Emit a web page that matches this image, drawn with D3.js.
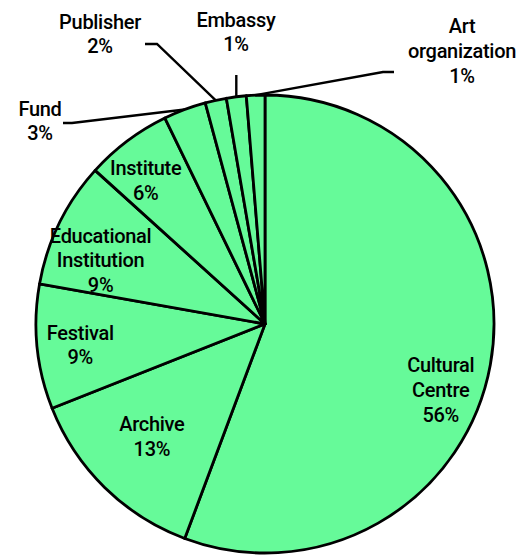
<!DOCTYPE html>
<html>
<head>
<meta charset="utf-8">
<script src="https://cdn.jsdelivr.net/npm/d3@7"></script>
<style>
html,body{margin:0;padding:0;background:#fff;}
svg text{font-family:Roboto,"Noto Sans",sans-serif;font-weight:500;font-size:20px;letter-spacing:-0.3px;fill:#000;}
</style>
</head>
<body>
<svg id="chart" width="530" height="555"></svg>
<script>
// Data
const categories = ["Cultural Centre","Archive","Festival","Educational Institution","Institute","Fund","Publisher","Embassy","Art organization"];
const labelLines = [["Cultural","Centre"],["Archive"],["Festival"],["Educational","Institution"],["Institute"],["Fund"],["Publisher"],["Embassy"],["Art","organization"]];
const values = [55.7,13.3,8.8,8.9,6.1,3.0,1.5,1.4,1.3];
const percentLabels = ["56%","13%","9%","9%","6%","3%","2%","1%","1%"];

// Layout
const W = 530, H = 555;
const cx = 265, cy = 324, R = 229;
const lineH = 24.8;
const insideOffset = {
  "Cultural Centre":[0,34],
  "Archive":[12,-15],
  "Festival":[-7,3],
  "Educational Institution":[-4,15],
  "Institute":[-12,-1]
};
const outside = {
  "Fund":{label:[40,121], elbow:[72,123], end:[63,123]},
  "Publisher":{label:[100,34], elbow:[157,44], end:[145,44]},
  "Embassy":{label:[236,32], elbow:null, endY:75},
  "Art organization":{label:[462,51], elbow:[383,72], end:[394,72]}
};

const svg = d3.select("#chart");
const g = svg.append("g").attr("transform",`translate(${cx},${cy})`);

const data = categories.map((c,i)=>({name:c, value:values[i], lines:labelLines[i], pct:percentLabels[i]}));
const pie = d3.pie().value(d=>d.value).sort(null);
const arcs = pie(data);
const arc = d3.arc().innerRadius(0).outerRadius(R);
const labelArc = d3.arc().innerRadius(R*0.78).outerRadius(R*0.78);

g.selectAll("path.slice").data(arcs).enter().append("path")
  .attr("class","slice")
  .attr("d",arc)
  .attr("fill","#66fa99")
  .attr("stroke","#000")
  .attr("stroke-width",2.8)
  .attr("stroke-linejoin","round");

function drawLabel(x,y,lines){
  const n = lines.length;
  const t = svg.append("text").attr("text-anchor","middle");
  lines.forEach((l,i)=>{
    t.append("tspan").attr("x",x).attr("y",y + (i-(n-1)/2)*lineH).attr("dy","0.35em").text(l);
  });
}

arcs.forEach(a=>{
  const d = a.data;
  const lines = d.lines.concat([d.pct]);
  if (insideOffset[d.name]) {
    const c = labelArc.centroid(a);
    const o = insideOffset[d.name];
    drawLabel(cx + c[0] + o[0], cy + c[1] + o[1], lines);
  } else {
    const L = outside[d.name];
    const mid = (a.startAngle + a.endAngle)/2;
    const sx = cx + R*Math.sin(mid), sy = cy - R*Math.cos(mid);
    let pts;
    if (L.elbow) pts = [[sx,sy],L.elbow,L.end];
    else pts = [[sx,sy],[sx,L.endY]];
    svg.append("path").attr("d",d3.line()(pts)).attr("fill","none").attr("stroke","#000").attr("stroke-width",2.4);
    drawLabel(L.label[0],L.label[1],lines);
  }
});
</script>
</body>
</html>
